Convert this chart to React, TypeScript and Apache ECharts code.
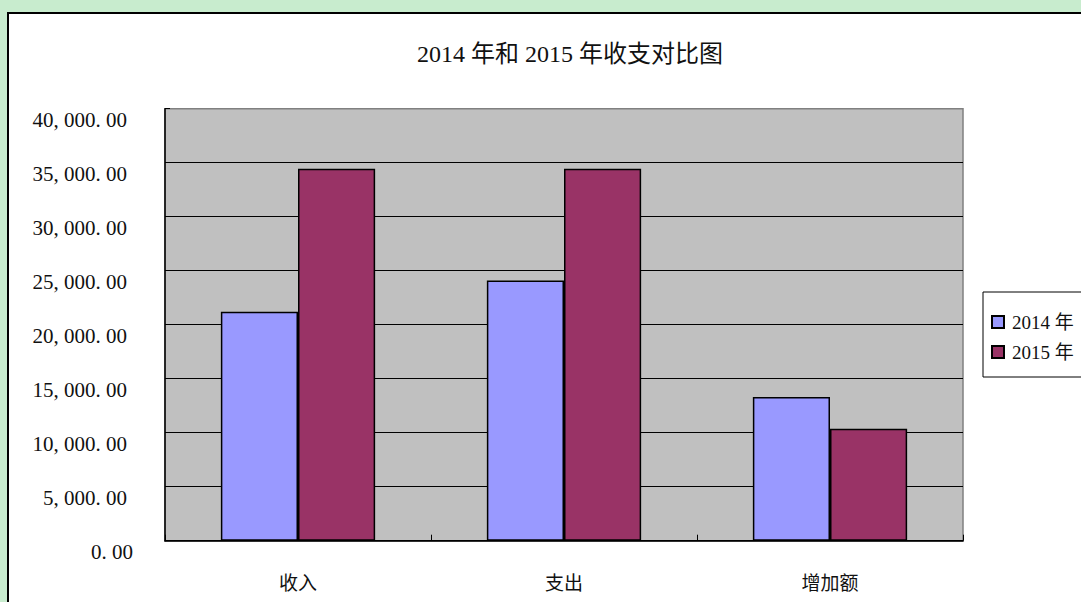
import React, { useEffect, useRef } from 'react';
import * as echarts from 'echarts';

const titleText = '2014 年和 2015 年收支对比图';
const categories = ['收入', '支出', '增加额'];
const seriesNames = ['2014 年', '2015 年'];
const values2014 = [21200, 24100, 13300];
const values2015 = [34450, 34450, 10370];
const yMin = 0;
const yMax = 40000;
const yInterval = 5000;

const FONT = "'Liberation Serif', 'Noto Sans CJK SC', serif";

function fmt(v: number): string {
  const [i, d] = v.toFixed(2).split('.');
  const withCommas = i.replace(/\B(?=(\d{3})+(?!\d))/g, ', ');
  return withCommas + '. ' + d;
}

export default function App() {
  const ref = useRef<HTMLDivElement>(null);
  useEffect(() => {
    document.body.style.margin = '0';
    const chart = echarts.init(ref.current!, undefined, { renderer: 'svg' });
    chart.setOption({
      animation: false,
      backgroundColor: '#c8ecce',
      graphic: [
        {
          type: 'rect',
          z: -10,
          silent: true,
          shape: { x: 8, y: 13, width: 1200, height: 700 },
          style: { fill: '#ffffff', stroke: '#000000', lineWidth: 2 },
        },
      ],
      title: {
        text: titleText,
        left: 417,
        top: 42,
        padding: 0,
        textStyle: { fontFamily: FONT, fontSize: 24, fontWeight: 'normal', color: '#111' },
      },
      legend: {
        data: seriesNames,
        orient: 'vertical',
        left: 983,
        top: 292,
        padding: [20, 40, 15, 8],
        itemGap: 10,
        itemWidth: 12,
        itemHeight: 12,
        icon: 'rect',
        borderColor: '#000',
        borderWidth: 1,
        backgroundColor: '#fff',
        textStyle: { fontFamily: FONT, fontSize: 19, lineHeight: 20, color: '#111', padding: [0, 0, 0, 3] },
      },
      grid: {
        left: 165,
        top: 108.7,
        right: 118,
        bottom: 61.3,
        show: true,
        backgroundColor: '#c0c0c0',
        borderColor: '#808080',
        borderWidth: 1.5,
      },
      xAxis: {
        type: 'category',
        data: categories,
        axisLine: { show: true, lineStyle: { color: '#000', width: 1.5 } },
        axisTick: { show: true, inside: true, length: 6, alignWithLabel: false, lineStyle: { color: '#000', width: 1 } },
        axisLabel: { fontFamily: FONT, fontSize: 19, lineHeight: 19, color: '#111', margin: 33 },
        splitLine: { show: false },
      },
      yAxis: {
        type: 'value',
        min: yMin,
        max: yMax,
        interval: yInterval,
        axisLine: { show: true, lineStyle: { color: '#000', width: 1.5 } },
        axisTick: { show: true, inside: true, length: 5, lineStyle: { color: '#000', width: 1 } },
        splitLine: { show: true, showMaxLine: false, lineStyle: { color: '#000', width: 1 } },
        axisLabel: {
          fontFamily: FONT,
          fontSize: 21,
          lineHeight: 21,
          color: '#111',
          margin: 38,
          verticalAlign: 'top',
          padding: [1, 0, 0, 0],
          formatter: (v: number) => (v === 0 ? '{z|' + fmt(v) + '}' : fmt(v)),
          rich: {
            z: { fontFamily: FONT, fontSize: 21, lineHeight: 21, color: '#111', width: 36, align: 'left' },
          },
        },
      },
      series: [
        {
          name: seriesNames[0],
          type: 'bar',
          data: values2014,
          barGap: '0%',
          barCategoryGap: '42%',
          itemStyle: { color: '#9999ff', borderColor: '#000', borderWidth: 1.5 },
        },
        {
          name: seriesNames[1],
          type: 'bar',
          data: values2015,
          barGap: '0%',
          barCategoryGap: '42%',
          itemStyle: { color: '#993366', borderColor: '#000', borderWidth: 1.5 },
        },
      ],
    });
    return () => chart.dispose();
  }, []);
  return <div ref={ref} style={{ width: 1081, height: 602 }} />;
}
